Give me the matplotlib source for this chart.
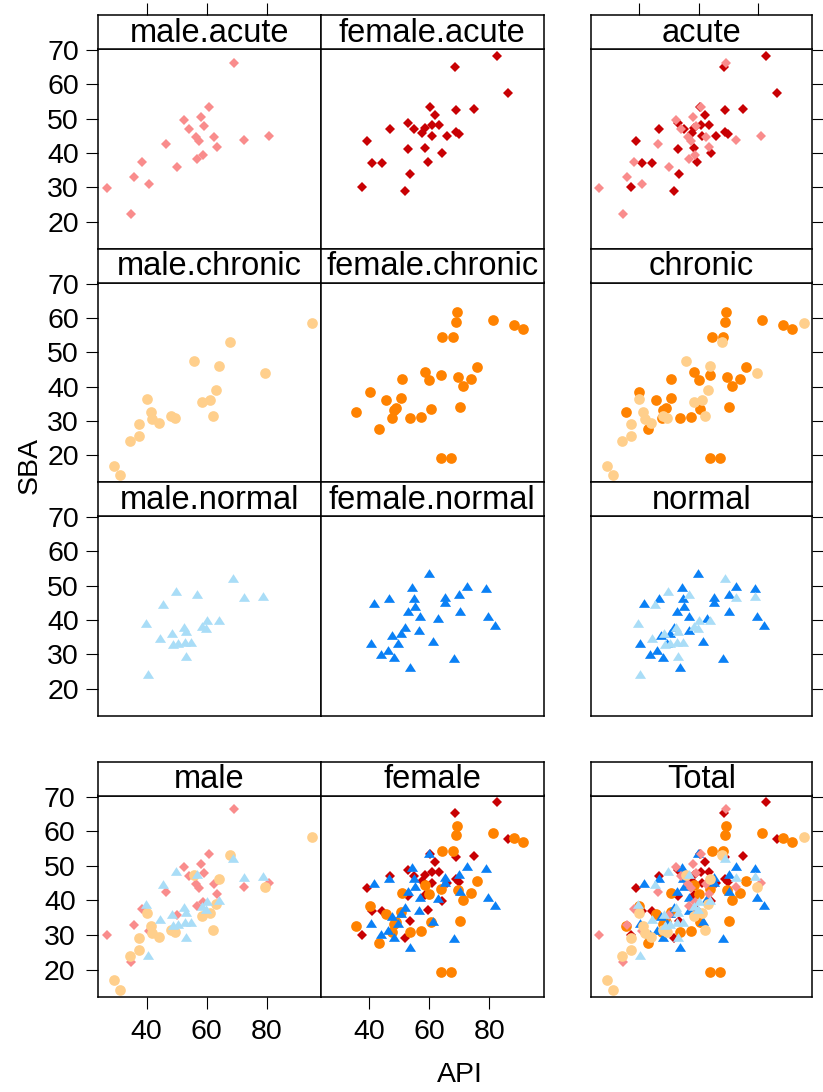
import matplotlib
matplotlib.use("Agg")
import matplotlib.pyplot as plt

plt.rcParams['font.family'] = ['Liberation Sans', 'DejaVu Sans']

# data (API, SBA)
male_acute_api = [69.1, 60.8, 52.3, 58.2, 54.2, 59.2, 56.3, 57.3, 62.3, 63.3, 72.4,
                  80.7, 46.4, 56.7, 58.9, 50.0, 38.3, 35.9, 40.9, 26.7, 34.8]
male_acute_sba = [66.3, 53.5, 49.6, 50.5, 47.0, 47.8, 44.7, 43.6, 44.8, 41.8, 43.8,
                  44.9, 42.5, 38.4, 39.4, 35.8, 37.5, 32.9, 31.0, 29.9, 22.2]

female_acute_api = [82.6, 68.6, 86.3, 60.3, 62.0, 68.9, 74.8, 53.0, 55.0, 58.6, 60.8,
                    63.3, 57.7, 61.0, 65.8, 68.9, 69.7, 46.9, 39.2, 53.0, 58.6, 64.2,
                    41.0, 44.3, 59.5, 53.5, 37.5, 51.9]
female_acute_sba = [68.3, 65.1, 57.6, 53.3, 51.1, 52.4, 52.9, 48.8, 46.9, 47.2, 48.1,
                    48.3, 45.7, 44.9, 45.0, 46.2, 45.4, 46.9, 43.6, 41.3, 41.4, 39.9,
                    37.0, 37.0, 37.3, 33.9, 30.1, 29.0]

male_chronic_api = [95.1, 67.8, 55.7, 63.9, 79.4, 63.0, 58.4, 61.2, 62.1, 40.0, 41.4,
                    41.9, 44.1, 48.1, 49.5, 37.5, 37.5, 34.3, 29.2, 31.2]
male_chronic_sba = [58.4, 53.0, 47.4, 46.1, 43.8, 38.9, 35.6, 36.2, 31.4, 36.3, 32.6,
                    30.5, 29.5, 31.4, 30.9, 29.2, 25.7, 24.0, 16.9, 14.1]

female_chronic_api = [69.2, 68.9, 81.1, 88.1, 91.2, 64.3, 68.0, 75.9, 58.6, 60.0, 63.9,
                      69.6, 73.7, 71.2, 50.8, 40.2, 45.6, 50.6, 49.0, 48.1, 35.6, 47.7,
                      53.6, 57.3, 60.6, 70.3, 43.2, 63.7, 67.3]
female_chronic_sba = [61.6, 58.8, 59.4, 57.9, 56.8, 54.4, 54.3, 45.6, 44.3, 41.8, 43.3,
                      42.9, 42.2, 40.2, 42.1, 38.5, 36.1, 36.6, 33.8, 33.1, 32.7, 30.8,
                      30.8, 31.2, 33.6, 34.1, 27.6, 19.2, 19.3]

male_normal_api = [68.7, 49.7, 56.7, 72.5, 78.8, 45.3, 39.7, 63.9, 60.1, 58.5, 59.8,
                   52.4, 53.0, 48.3, 44.4, 48.9, 50.5, 52.8, 54.7, 53.2, 40.3]
male_normal_sba = [52.3, 48.4, 47.7, 46.6, 46.9, 44.7, 39.0, 40.1, 39.9, 38.4, 37.6,
                   38.1, 36.7, 36.1, 34.7, 33.0, 33.3, 33.6, 33.6, 29.4, 24.2]

female_normal_api = [59.8, 54.3, 72.5, 78.7, 70.0, 65.2, 65.2, 46.7, 41.6, 54.9, 55.2,
                     52.8, 70.2, 56.9, 62.7, 79.6, 82.0, 51.9, 56.7, 50.5, 47.5, 49.5,
                     61.3, 40.5, 46.1, 43.8, 48.2, 68.2, 53.7]
female_normal_sba = [53.6, 49.7, 49.9, 49.4, 47.5, 46.8, 45.3, 46.4, 44.9, 46.4, 44.1,
                     42.7, 42.7, 41.1, 40.7, 41.1, 38.7, 38.0, 37.2, 36.3, 35.5, 33.4,
                     33.9, 33.4, 31.4, 30.2, 29.3, 29.0, 26.4]

x_ticks = [40, 60, 80]
y_ticks = [20, 30, 40, 50, 60, 70]

tri = [(-1, -0.78), (1, -0.78), (0, 0.78)]
groups = {
    'MA': (male_acute_api, male_acute_sba, 'D', 5.4, '#F98C8C'),
    'FA': (female_acute_api, female_acute_sba, 'D', 5.4, '#C80003'),
    'MC': (male_chronic_api, male_chronic_sba, 'o', 7.7, '#FFCF8C'),
    'FC': (female_chronic_api, female_chronic_sba, 'o', 7.7, '#FF8200'),
    'MN': (male_normal_api, male_normal_sba, tri, 8.0, '#A9DDF7'),
    'FN': (female_normal_api, female_normal_sba, tri, 8.0, '#0A80F5'),
}

panels = [
    [('male.acute', ['MA']), ('female.acute', ['FA']), ('acute', ['FA', 'MA'])],
    [('male.chronic', ['MC']), ('female.chronic', ['FC']), ('chronic', ['FC', 'MC'])],
    [('male.normal', ['MN']), ('female.normal', ['FN']), ('normal', ['FN', 'MN'])],
    [('male', ['MA', 'MC', 'MN']), ('female', ['FA', 'FC', 'FN']),
     ('Total', ['FA', 'FC', 'FN', 'MA', 'MC', 'MN'])],
]

W, H = 823, 1092
fig = plt.figure(figsize=(W / 100, H / 100), dpi=100)

cols = [(98.3, 321.0), (321.0, 543.5), (590.7, 812.3)]
rows = [(49.0, 248.5), (282.5, 482.0), (516.0, 715.5), (795.5, 996.5)]
strip_h = 34.0
lw = 1.1


def px_axes(l, t, r, b):
    return fig.add_axes([l / W, 1 - b / H, (r - l) / W, (b - t) / H])


for i, (top, bot) in enumerate(rows):
    for j, (left, right) in enumerate(cols):
        title, keys = panels[i][j]
        ax = px_axes(left, top, right, bot)
        for k in keys:
            xs, ys, m, ms, c = groups[k]
            ax.plot(xs, ys, linestyle='none', marker=m, markersize=ms,
                    markerfacecolor=c, markeredgewidth=0, clip_on=False)
        ax.set_xlim(23.9, 98.0)
        ax.set_ylim(12.2, 70.3)
        ax.set_xticks(x_ticks)
        ax.set_yticks(y_ticks)
        for s in ax.spines.values():
            s.set_linewidth(lw)
        ax.tick_params(direction='out', length=8.3, width=0.8, labelsize=20.5,
                       left=False, right=False, top=False, bottom=False,
                       labelleft=False, labelbottom=False, pad=5.5)
        if j == 0:
            ax.tick_params(left=True, labelleft=True)
        if j == 2:
            ax.tick_params(right=True)
        if i == 3 and j < 2:
            ax.tick_params(bottom=True, labelbottom=True, pad=8)

        # strip
        sx = px_axes(left, top - strip_h, right, top)
        sx.set_xlim(23.9, 98.0)
        sx.set_yticks([])
        sx.set_xticks(x_ticks if (i == 0 and j != 1) else [])
        sx.tick_params(axis='x', direction='out', length=8.3, width=0.8,
                       bottom=False, top=True, labelbottom=False)
        for s in sx.spines.values():
            s.set_linewidth(lw)
        sx.text(0.5, 0.47, title, transform=sx.transAxes, ha='center',
                va='center', fontsize=23.5)

fig.text(30 / W, 1 - 465 / H, 'SBA', rotation=90, ha='center', va='center',
         fontsize=20.5)
fig.text(460 / W, 1 - 1075 / H, 'API', ha='center', va='center', fontsize=20.5)

fig.savefig('out.png', dpi=100)
